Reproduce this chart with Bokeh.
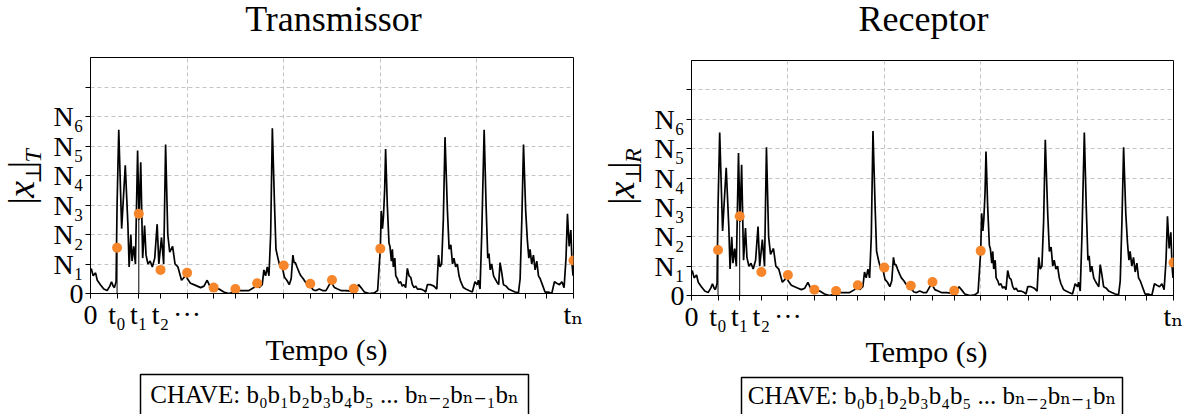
import math
from bokeh.plotting import figure
from bokeh.layouts import row, column
from bokeh.models import FixedTicker, Range1d
from bokeh.core.properties import value
from bokeh.embed import file_html
from bokeh.resources import INLINE

# ---------------- data ----------------
time_s = [0.03, 0.11, 0.21, 0.28, 0.41, 0.55, 0.69, 0.80, 0.87, 0.94, 0.99, 1.06, 1.10, 1.17,
          1.29, 1.44, 1.55, 1.60, 1.67, 1.72, 1.79, 1.86, 1.95, 2.01, 2.08, 2.16, 2.24, 2.30,
          2.38, 2.47, 2.56, 2.66, 2.76, 2.83, 2.94, 3.03, 3.11, 3.20, 3.28, 3.40, 3.50, 3.62,
          3.77, 3.88, 3.97, 4.01, 4.14, 4.28, 4.42, 4.56, 4.70, 4.83, 4.94, 5.11, 5.32, 5.52,
          5.73, 5.94, 6.15, 6.35, 6.56, 6.77, 6.88, 6.98, 7.11, 7.18, 7.25, 7.32, 7.39, 7.46,
          7.53, 7.62, 7.68, 7.76, 7.85, 7.94, 8.03, 8.13, 8.23, 8.31, 8.38, 8.43, 8.48, 8.55,
          8.65, 8.71, 8.81, 8.89, 8.99, 9.09, 9.23, 9.34, 9.47, 9.61, 9.75, 9.89, 9.96, 10.10,
          10.23, 10.37, 10.58, 10.79, 10.88, 10.99, 11.10, 11.20, 11.34, 11.55, 11.75, 11.89,
          11.96, 12.00, 12.04, 12.09, 12.13, 12.18, 12.22, 12.29, 12.36, 12.40, 12.46, 12.50,
          12.54, 12.60, 12.64, 12.71, 12.77, 12.84, 12.91, 12.98, 13.05, 13.12, 13.19, 13.26,
          13.33, 13.40, 13.47, 13.54, 13.67, 13.81, 13.88, 13.95, 14.09, 14.22, 14.34, 14.41,
          14.47, 14.54, 14.61, 14.68, 14.78, 14.85, 14.92, 14.99, 15.05, 15.12, 15.19, 15.26,
          15.33, 15.44, 15.54, 15.67, 15.81, 15.92, 16.02, 16.06, 16.13, 16.20, 16.30, 16.38,
          16.45, 16.50, 16.55, 16.61, 16.69, 16.75, 16.82, 16.90, 16.96, 17.03, 17.10, 17.21,
          17.31, 17.44, 17.58, 17.72, 17.79, 17.86, 17.93, 18.02, 18.09, 18.15, 18.20, 18.27,
          18.34, 18.41, 18.48, 18.55, 18.62, 18.71, 18.82, 18.96, 19.10, 19.21, 19.31, 19.42,
          19.52, 19.61, 19.69, 19.75, 19.82, 19.89, 19.94, 19.98]
signal = [0.85, 0.6, 0.7, 0.45, 0.3, 0.15, 0.1, 0.25, 0.4, 0.25, 0.2, 0.4, 3.0, 5.55,
          2.2, 4.35, 2.3, 0.9, 2.0, 1.1, 1.6, 1.0, 4.85, 2.5, 4.45, 1.2, 2.3, 1.3,
          1.0, 1.1, 0.9, 1.2, 2.35, 1.0, 1.9, 1.0, 5.05, 2.0, 1.4, 1.6, 1.0, 0.9,
          0.45, 0.55, 0.7, 0.5, 0.35, 0.3, 0.25, 0.2, 0.25, 0.45, 0.25, 0.2, 0.15, 0.05,
          0.0, 0.05, 0.1, 0.1, 0.1, 0.2, 0.35, 0.2, 0.3, 0.8, 0.6, 0.9, 0.6, 2.0,
          5.6, 3.0, 1.5, 1.2, 0.9, 0.9, 0.55, 0.45, 0.3, 0.5, 1.3, 1.05, 1.05, 0.9,
          0.7, 0.6, 0.5, 0.4, 0.3, 0.25, 0.12, 0.1, 0.15, 0.1, 0.1, 0.3, 0.4, 0.2,
          0.15, 0.1, 0.1, 0.08, 0.1, 0.15, 0.3, 0.2, 0.05, 0.0, 0.02, 0.1,
          1.0, 1.5, 2.8, 2.2, 2.6, 3.5, 4.9, 3.0, 1.7, 1.6, 1.1, 1.5,
          0.9, 1.2, 0.6, 0.5, 0.35, 0.4, 0.25, 0.3, 0.2, 0.85, 0.6, 0.55,
          0.3, 0.2, 0.25, 0.15, 0.15, 0.1, 0.05, 0.3, 0.3, 0.25, 0.15, 1.3,
          0.9, 1.0, 2.5, 5.3, 2.8, 1.5, 1.65, 1.0, 1.2, 0.9, 1.0, 0.6,
          0.4, 0.2, 0.15, 0.1, 0.05, 0.4, 0.3, 0.45, 0.15, 2.0, 5.55, 3.0,
          1.2, 1.35, 0.8, 1.0, 0.6, 0.5, 0.4, 0.3, 1.05, 0.7, 0.3, 0.25,
          0.15, 0.1, 0.05, 0.02, 0.5, 2.5, 5.05, 2.8, 1.8, 1.2, 1.5, 1.0,
          1.3, 0.8, 1.1, 0.6, 0.5, 0.3, 0.05, 0.05, 0.0, 0.4, 0.35, 0.3,
          0.4, 0.2, 1.2, 2.7, 1.6, 2.15, 1.0, 0.6]

sample_t = [1.1, 2.0, 2.9, 4.0, 5.1, 6.0, 6.9, 8.0, 9.1, 10.0, 10.9, 12.0, 20.0]
sample_v = [1.55, 2.7, 0.8, 0.7, 0.2, 0.15, 0.35, 0.95, 0.33, 0.46, 0.16, 1.52, 1.12]

x_ticks = [0, 1.1, 2.0, 2.9, 4, 5.1, 6.0, 6.9, 8, 9.1, 10.0, 10.9, 12,
           13.1, 14.0, 14.9, 16, 17.1, 18.0, 18.9, 20]
x_tick_labels = {0: "0", 1.1: "t₀", 2.0: "t₁", 2.9: "t₂", 4: "···", 20: "tₙ"}
y_ticks = [0, 1, 2, 3, 4, 5, 6, 7]
y_tick_labels = ["0", "N₁", "N₂", "N₃", "N₄", "N₅", "N₆", ""]
x_grid = [4, 8, 12, 16]
y_grid = [1, 2, 3, 4, 5, 6, 7]

titles = ["Transmissor", "Receptor"]
y_subscripts = ["T", "R"]
x_label = "Tempo (s)"
key_text = "CHAVE: b₀b₁b₂b₃b₄b₅ ... bₙ₋₂bₙ₋₁bₙ"

FONT = "Liberation Serif, DejaVu Serif"
BASE_FIX = 0.39  # measured shift of the alphabetic baseline, in em


def blank(width, height):
    f = figure(width=width, height=height, x_range=Range1d(0, width),
               y_range=Range1d(0, height), output_backend="svg",
               toolbar_location=None, min_border=0,
               x_axis_location=None, y_axis_location=None)
    f.outline_line_color = None
    f.grid.visible = False
    f.background_fill_color = "white"
    f.border_fill_color = "white"
    return f


def txt(f, x, y, s, size, align="center", style="normal", angle=0.0):
    px = float(size.rstrip("px"))
    if angle == 0.0:
        y = y + BASE_FIX * px
    else:
        x = x - BASE_FIX * px
    f.text(x=[x], y=[y], text=[s], text_font=value(FONT), text_font_size=value(size),
           text_font_style=value(style), text_align=value(align),
           text_baseline=value("alphabetic"), angle=angle, text_color="black")


def main_plot(width, bl, br, bt, bb, fh):
    p = figure(width=width, height=bt + fh + bb, x_range=Range1d(0, 20),
               y_range=Range1d(0, 8), output_backend="svg", toolbar_location=None,
               min_border_left=bl, min_border_right=br, min_border_top=bt,
               min_border_bottom=bb)
    p.outline_line_color = "black"
    p.outline_line_alpha = 1.0
    p.background_fill_color = "white"
    p.border_fill_color = "white"

    p.xaxis.ticker = FixedTicker(ticks=x_ticks, minor_ticks=[])
    p.xaxis.major_label_overrides = {t: x_tick_labels.get(t, "") for t in x_ticks}
    p.yaxis.ticker = FixedTicker(ticks=y_ticks, minor_ticks=[])
    p.yaxis.major_label_overrides = {t: l for t, l in zip(y_ticks, y_tick_labels)}
    for ax in (p.xaxis, p.yaxis):
        ax.axis_line_color = "black"
        ax.major_tick_line_color = "black"
        ax.major_tick_in = 0
        ax.major_tick_out = 5
        ax.minor_tick_line_color = None
        ax.major_label_text_font = FONT
        ax.major_label_text_color = "black"
    p.xaxis.major_label_text_font_size = "28px"
    p.xaxis.major_label_standoff = 0
    p.yaxis.major_label_text_font_size = "28px"
    p.yaxis.major_label_standoff = 2

    p.xgrid.ticker = FixedTicker(ticks=x_grid, minor_ticks=[])
    p.ygrid.ticker = FixedTicker(ticks=y_grid, minor_ticks=[])
    for g in (p.xgrid, p.ygrid):
        g.grid_line_color = "#c4c4c4"
        g.grid_line_dash = "4 3"
        g.grid_line_width = 1

    p.line(time_s, signal, line_color="black", line_width=1.7)
    p.segment(x0=sample_t[:2], y0=[0, 0], x1=sample_t[:2], y1=sample_v[:2],
              line_color="black", line_width=1)
    p.scatter(sample_t, sample_v, size=10, fill_color="#f7862b", line_color=None)
    return p


def panel(title, sub, W, top_h, ylab_w, bl, br, fh,
          title_cx, title_base, lab_bx, lab_shift, tempo_cx, tempo_base,
          key_l, key_r, key_top, key_base):
    bt, bb = 5, 40
    top = blank(W, top_h)
    txt(top, title_cx, top_h - title_base, title, "36px")

    mid_h = bt + fh + bb
    ylab = blank(ylab_w, mid_h)
    y0 = top_h + mid_h  # canvas y of ylab bottom
    pieces = [("|", 0, 201, "36px", "normal"),
              ("x", 0, 193, "38px", "italic"),
              ("⊥", 7, 176, "22px", "normal"),
              ("|", 0, 158, "36px", "normal"),
              (sub, 7, 151, "24px", "italic")]
    for s, dx, cy, fs, st in pieces:
        txt(ylab, lab_bx + dx, y0 - cy - lab_shift, s, fs, align="left",
            style=st, angle=math.pi / 2)

    p = main_plot(W - ylab_w, bl, br, bt, bb, fh)

    bottom_h = 414 - top_h - mid_h
    bot = blank(W, bottom_h)
    b0 = top_h + mid_h  # canvas y of bottom fig top
    txt(bot, tempo_cx, bottom_h - (tempo_base - b0), x_label, "30px")
    bot.quad(left=[key_l], right=[key_r], top=[bottom_h - (key_top - b0)],
             bottom=[-10], fill_color=None, line_color="black", line_width=1.5)
    txt(bot, (key_l + key_r) / 2, bottom_h - (key_base - b0), key_text, "25px")
    return column(top, row(ylab, p), bot)


left = panel(titles[0], y_subscripts[0], 594, 52, 50, 40, 21, 236,
             title_cx=333, title_base=33, lab_bx=35, lab_shift=26,
             tempo_cx=326, tempo_base=361, key_l=140, key_r=528, key_top=374, key_base=404)
right = panel(titles[1], y_subscripts[1], 595, 55, 54, 43, 16, 235,
              title_cx=923 - 594, title_base=33, lab_bx=41, lab_shift=26,
              tempo_cx=926 - 594, tempo_base=363, key_l=147, key_r=528, key_top=377,
              key_base=405)

layout = row(left, right)
open("out.html", "w").write(file_html(layout, INLINE))
